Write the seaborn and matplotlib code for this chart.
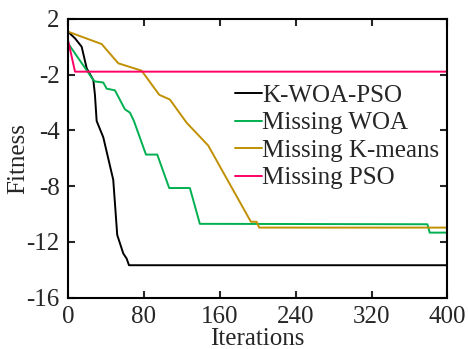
import numpy as np
import pandas as pd
import matplotlib
matplotlib.use("Agg")
import matplotlib.pyplot as plt
import seaborn as sns

# ---- data ----
series_names = ["K-WOA-PSO", "Missing WOA", "Missing K-means", "Missing PSO"]
colors = ["#000000", "#00b050", "#c09000", "#ff0066"]

kwoa_x = [0, 7.4, 14.4, 19.7, 26.7, 28.4, 30.2, 37.2, 47.7, 51.9, 58.3, 61.8, 64.3, 400]
kwoa_y = [1.09, 0.61, 0.01, -1.54, -2.19, -2.72, -3.66, -4.49, -7.54, -11.5, -12.83, -13.19, -13.67, -13.67]

woa_x = [0, 26.7, 28.4, 37.2, 40.8, 49.5, 60, 65.3, 69.5, 82.2, 94.1, 106.7, 128.5, 139, 378.9, 381.3, 400]
woa_y = [0.26, -2.19, -2.24, -2.28, -2.5, -2.56, -3.24, -3.36, -3.66, -5.73, -5.73, -8.13, -8.13, -10.70, -10.73, -11.33, -11.33]

km_x = [0, 35.5, 53, 77.6, 96.2, 107.4, 125, 147.8, 192.8, 198.8, 201.5, 400]
km_y = [1.09, 0.20, -1.18, -1.71, -2.72, -2.89, -3.72, -5.08, -10.55, -10.55, -10.97, -10.97]

pso_x = [0, 7.4, 400]
pso_y = [0.49, -1.78, -1.78]

x_ticks = [0, 80, 160, 240, 320, 400]
y_ticks = [2, -2, -4, -8, -12, -16]

frames = []
for name, xs, ys in zip(series_names, [kwoa_x, woa_x, km_x, pso_x], [kwoa_y, woa_y, km_y, pso_y]):
    frames.append(pd.DataFrame({"Iterations": xs, "Fitness": ys, "series": name}))
df = pd.concat(frames, ignore_index=True)

# ---- style ----
sns.set_style("ticks")
plt.rcParams["font.family"] = ["Liberation Serif", "DejaVu Serif"]

fig = plt.figure(figsize=(4.68, 3.49), dpi=100)
ax = fig.add_axes([0.1453, 0.147, 0.956 - 0.1453, 0.9456 - 0.147])

# piecewise y scale: labelled ticks are equally spaced
yk = np.array(sorted(y_ticks), dtype=float)
pk = np.arange(len(yk), dtype=float)

def fwd(v):
    return np.interp(v, yk, pk)

def inv(p):
    return np.interp(p, pk, yk)

ax.set_yscale("function", functions=(fwd, inv))

sns.lineplot(data=df, x="Iterations", y="Fitness", hue="series",
             hue_order=series_names, palette=colors, estimator=None,
             sort=False, linewidth=1.4, ax=ax)

ax.set_xlim(0, 400)
ax.set_ylim(-16, 2)
ax.set_xticks(x_ticks)
ax.set_xticklabels([str(t) for t in x_ticks])
ax.set_yticks(y_ticks)
ax.set_yticklabels([str(t) for t in y_ticks])
ax.minorticks_off()
ax.tick_params(direction="in", top=True, right=True, length=5, width=1.5,
               labelsize=18, pad=6)
for s in ax.spines.values():
    s.set_linewidth(1.5)
    s.set_color("black")

ax.set_xlabel("Iterations", fontsize=18, labelpad=0)
ax.set_ylabel("Fitness", fontsize=18, labelpad=-2)

leg = ax.legend(loc="upper left", bbox_to_anchor=(0.44, 0.765), frameon=False,
                fontsize=18, handlelength=1.1, handletextpad=0.0,
                labelspacing=0.2, borderpad=0, borderaxespad=0)
for line in leg.get_lines():
    line.set_linewidth(1.4)

fig.savefig("out.png", dpi=100)
